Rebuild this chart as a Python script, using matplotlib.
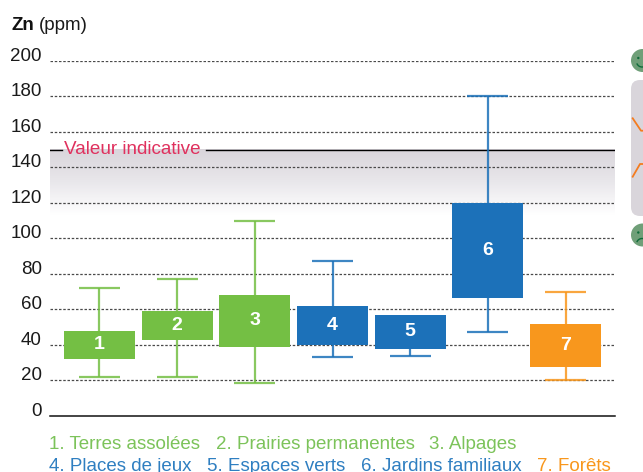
import matplotlib
matplotlib.use('Agg')
import matplotlib.pyplot as plt
import numpy as np
from matplotlib.colors import LinearSegmentedColormap
from matplotlib.patches import Circle, FancyBboxPatch, Arc

plt.rcParams['font.family'] = ['Liberation Sans', 'DejaVu Sans']

positions = [1, 2, 3, 4, 5, 6, 7]
box_low = [32, 42.7, 39, 39.9, 37.6, 66.6, 27.5]
box_high = [47.8, 59.2, 68, 61.9, 56.8, 120, 51.7]
whisker_low = [21.6, 21.8, 18.6, 33.1, 33.7, 47.2, 20]
whisker_high = [71.8, 77, 110, 87.3, 56.8, 180, 69.8]
group = ['green', 'green', 'green', 'blue', 'blue', 'blue', 'orange']
yticks = [0, 20, 40, 60, 80, 100, 120, 140, 160, 180, 200]
guide_value = 150
band_low = 113

colors = {'green': '#74bf44', 'blue': '#1c71b9', 'orange': '#f8971d'}
W, H = 643, 472
x0, x1 = 0.3627, 7.637

fig = plt.figure(figsize=(W / 100, H / 100), dpi=100)
left, right, top, bottom = 50, 615, 61, 415.7
ax = fig.add_axes([left / W, 1 - bottom / H, (right - left) / W, (bottom - top) / H])
ax.set_xlim(x0, x1)
ax.set_ylim(0, 200)
for s in ['top', 'right', 'left']:
    ax.spines[s].set_visible(False)
ax.spines['bottom'].set_linewidth(1.1)
ax.spines['bottom'].set_color('#111111')
ax.set_xticks([])
ax.set_yticks(yticks)
ax.tick_params(axis='y', length=0, pad=6, labelsize=13.5, labelcolor='#1a1a1a')
for lab in ax.get_yticklabels():
    lab.set_verticalalignment('baseline')

# grey band under the guide value
cmap = LinearSegmentedColormap.from_list('band', ['#ffffff', '#e9e7eb', '#d9d5db'])
grad = np.linspace(0, 1, 100).reshape(-1, 1)
ax.imshow(grad, extent=[x0, x1, band_low, guide_value], origin='lower',
          aspect='auto', cmap=cmap, zorder=0)

for v in yticks[1:]:
    ax.axhline(v, color='#4a4a4a', lw=0.9, dashes=(2.0, 1.4), zorder=1)

# guide line, broken where the label sits
ax.plot([x0, 0.52], [guide_value, guide_value], color='black', lw=1, zorder=2)
ax.plot([2.37, x1], [guide_value, guide_value], color='black', lw=1, zorder=2)
ax.text(0.54, 147.6, 'Valeur indicative', color='#e0315e', fontsize=13.6,
        va='baseline', ha='left', zorder=2)

for i, x in enumerate(positions):
    c = colors[group[i]]
    ax.plot([x, x], [whisker_low[i], whisker_high[i]], color=c, lw=1.6, alpha=0.85, zorder=3,
            solid_capstyle='butt')
    for w in (whisker_low[i], whisker_high[i]):
        if w != box_high[i]:
            ax.plot([x - 0.265, x + 0.265], [w, w], color=c, lw=1.6, alpha=0.85, zorder=3,
                    solid_capstyle='butt')
    ax.bar(x, box_high[i] - box_low[i], bottom=box_low[i], width=0.915, color=c, zorder=4)
    ax.text(x, (box_low[i] + box_high[i]) / 2, str(x), color='white', fontsize=14,
            fontweight='bold', ha='center', va='center', zorder=5)

# right hand scale, cut by the edge of the picture
over = fig.add_axes([0, 0, 1, 1], facecolor='none')
over.set_xlim(0, W)
over.set_ylim(H, 0)
over.axis('off')
over.add_patch(FancyBboxPatch((631, 80), 40, 136, boxstyle='round,pad=0,rounding_size=9',
                              fc='#d9d5db', ec='none'))
over.plot([632.7, 641, 643], [118.3, 130.7, 130.7], color='#f47c20', lw=1.3)
over.plot([632.7, 640, 643], [176.7, 164, 164], color='#f47c20', lw=1.3)
for cy, mood in ((60.5, 1), (235, -1)):
    over.add_patch(Circle((642.5, cy), 11.5, fc='#6f9f78', ec='none'))
    over.add_patch(Circle((638.3, cy - 2.5), 1.2, fc='#0f6b3a', ec='none'))
    if mood > 0:
        over.add_patch(Arc((642, cy + 1), 11, 11, theta1=20, theta2=160, color='#0f6b3a', lw=1))
    else:
        over.add_patch(Arc((642, cy + 9), 11, 11, theta1=200, theta2=340, color='#0f6b3a', lw=1))

fig.text(11 / W, 1 - 30 / H, 'Zn', fontsize=13.5, fontweight='bold', color='#111111', va='baseline')
fig.text(39 / W, 1 - 30 / H, '(ppm)', fontsize=13.5, color='#1a1a1a', va='baseline')

legend_rows = [
    [(49, '1. Terres assolées', 'green'), (216, '2. Prairies permanentes', 'green'),
     (429, '3. Alpages', 'green')],
    [(49, '4. Places de jeux', 'blue'), (207, '5. Espaces verts', 'blue'),
     (361, '6. Jardins familiaux', 'blue'), (537, '7. Forêts', 'orange')],
]
legend_text = {'green': '#7cc35a', 'blue': '#2f7fc1', 'orange': '#f8971d'}
for y, row in zip((449, 470.7), legend_rows):
    for x, label, g in row:
        fig.text(x / W, 1 - y / H, label, color=legend_text[g], fontsize=13.5, va='baseline')

fig.savefig('out.png', dpi=100)
